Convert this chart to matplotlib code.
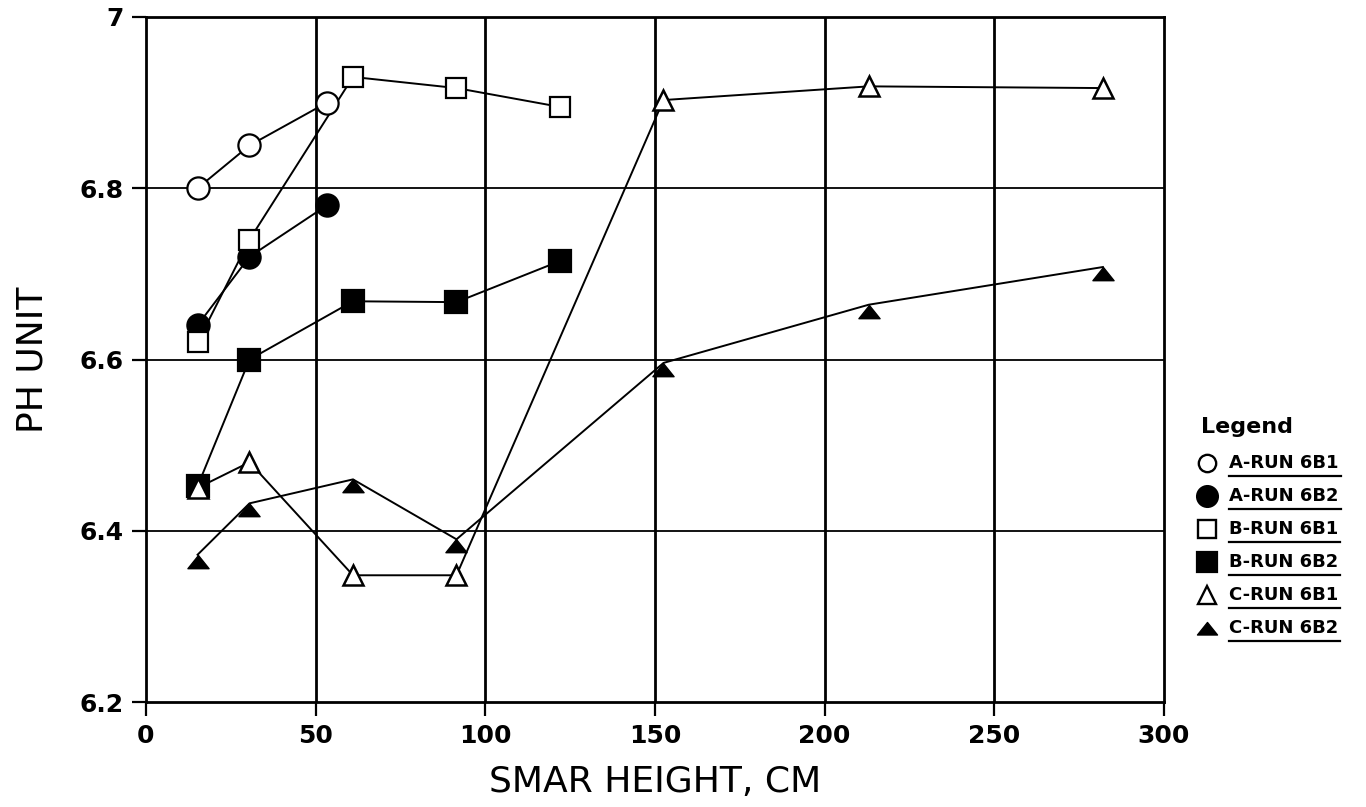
import matplotlib
matplotlib.use("Agg")
import matplotlib.pyplot as plt
from matplotlib.lines import Line2D
from matplotlib.path import Path
from matplotlib import font_manager

# ---- data: pH along the height of each run ----
x_a = [15.2, 30.5, 53.3]
a_run_6b1 = [6.80, 6.85, 6.90]
a_run_6b2 = [6.64, 6.72, 6.78]

x_b = [15.2, 30.5, 61.0, 91.5, 122.0]
b_run_6b1 = [6.62, 6.74, 6.93, 6.917, 6.895]
b_run_6b2 = [6.452, 6.60, 6.668, 6.667, 6.715]

x_c = [15.2, 30.5, 61.0, 91.5, 152.5, 213.0, 282.0]
c_run_6b1 = [6.45, 6.48, 6.348, 6.348, 6.903, 6.919, 6.917]
c_run_6b2 = [6.372, 6.432, 6.46, 6.39, 6.596, 6.664, 6.708]

legend_labels = ["A-RUN 6B1", "A-RUN 6B2", "B-RUN 6B1",
                 "B-RUN 6B2", "C-RUN 6B1", "C-RUN 6B2"]
x_ticks = [0, 50, 100, 150, 200, 250, 300]
y_ticks = [6.2, 6.4, 6.6, 6.8, 7.0]
y_tick_labels = ["6.2", "6.4", "6.6", "6.8", "7"]

# ---- fonts ----
installed = {f.name for f in font_manager.fontManager.ttflist}
label_family = "Liberation Sans Narrow" if "Liberation Sans Narrow" in installed else "DejaVu Sans"

# flattened solid triangle with its apex at the data point
flat_tri = Path([(0, 0), (-0.8, -1.0), (0.8, -1.0), (0, 0)],
                [Path.MOVETO, Path.LINETO, Path.LINETO, Path.CLOSEPOLY])

W, H = 1366, 807
fig = plt.figure(figsize=(W / 100, H / 100), dpi=100)
ax = fig.add_axes([146 / W, 1 - 702 / H, (1164 - 146) / W, (702 - 17) / H])

ax.set_xlim(0, 300)
ax.set_ylim(6.2, 7.0)

# grid: heavier verticals, lighter horizontals
for xv in x_ticks[1:-1]:
    ax.axvline(xv, color="black", lw=2.0, zorder=1)
for yv in y_ticks[1:-1]:
    ax.axhline(yv, color="black", lw=1.3, zorder=1)

line_kw = dict(color="black", lw=1.4, zorder=3)
styles = [
    (x_a, a_run_6b1, dict(marker="o", ms=16, mfc="white", mec="black", mew=1.6)),
    (x_a, a_run_6b2, dict(marker="o", ms=16, mfc="black", mec="black", mew=1.6)),
    (x_b, b_run_6b1, dict(marker="s", ms=15, mfc="white", mec="black", mew=1.6)),
    (x_b, b_run_6b2, dict(marker="s", ms=16, mfc="black", mec="black", mew=1.6)),
    (x_c, c_run_6b1, dict(marker="^", ms=14, mfc="white", mec="black", mew=1.8)),
    (x_c, c_run_6b2, dict(marker=flat_tri, ms=19, mfc="black", mec="black", mew=1.0)),
]
# draw the lines first so open markers sit on top of the connecting lines
for xs, ys, mk in styles:
    ax.plot(xs, ys, **line_kw)
for xs, ys, mk in styles:
    ax.plot(xs, ys, linestyle="none", zorder=4, **mk)

for s in ax.spines.values():
    s.set_linewidth(2.0)
    s.set_color("black")

ax.set_xticks(x_ticks)
ax.set_yticks(y_ticks)
ax.set_yticklabels(y_tick_labels)
ax.tick_params(axis="both", direction="out", length=10, width=1.6,
               labelsize=18, pad=6, colors="black")
for t in ax.get_xticklabels() + ax.get_yticklabels():
    t.set_fontweight("bold")

ax.set_xlabel("SMAR HEIGHT, CM", fontsize=26, family=label_family, labelpad=12)
ax.set_ylabel("PH UNIT", fontsize=26, family=label_family, labelpad=22)

# ---- hand-built legend at the right ----
fig.text(1201 / W, 1 - 427 / H, "Legend", fontsize=16, fontweight="bold",
         ha="left", va="center")
row_y = [463, 496, 529, 562, 595, 628]
legend_markers = [
    dict(marker="o", ms=12.5, mfc="white", mec="black", mew=1.7),
    dict(marker="o", ms=15, mfc="black", mec="black", mew=1.6),
    dict(marker="s", ms=12.5, mfc="white", mec="black", mew=1.7),
    dict(marker="s", ms=14.5, mfc="black", mec="black", mew=1.6),
    dict(marker="^", ms=13, mfc="white", mec="black", mew=1.7),
    dict(marker=flat_tri, ms=18, mfc="black", mec="black", mew=1.0),
]
renderer = fig.canvas.get_renderer()
for yy, lab, mk in zip(row_y, legend_labels, legend_markers):
    yoff = 6 if mk["marker"] is flat_tri else 0
    fig.add_artist(Line2D([1207 / W], [1 - (yy - yoff) / H], transform=fig.transFigure,
                          linestyle="none", **mk))
    t = fig.text(1229 / W, 1 - yy / H, lab, fontsize=13, fontweight="bold",
                 ha="left", va="center")
    bb = t.get_window_extent(renderer=renderer)
    uy = (bb.y0 - 4) / H
    fig.add_artist(Line2D([bb.x0 / W, bb.x1 / W + 2 / W], [uy, uy],
                          transform=fig.transFigure, color="black", lw=1.6))

fig.savefig("out.png", dpi=100, facecolor="white")
